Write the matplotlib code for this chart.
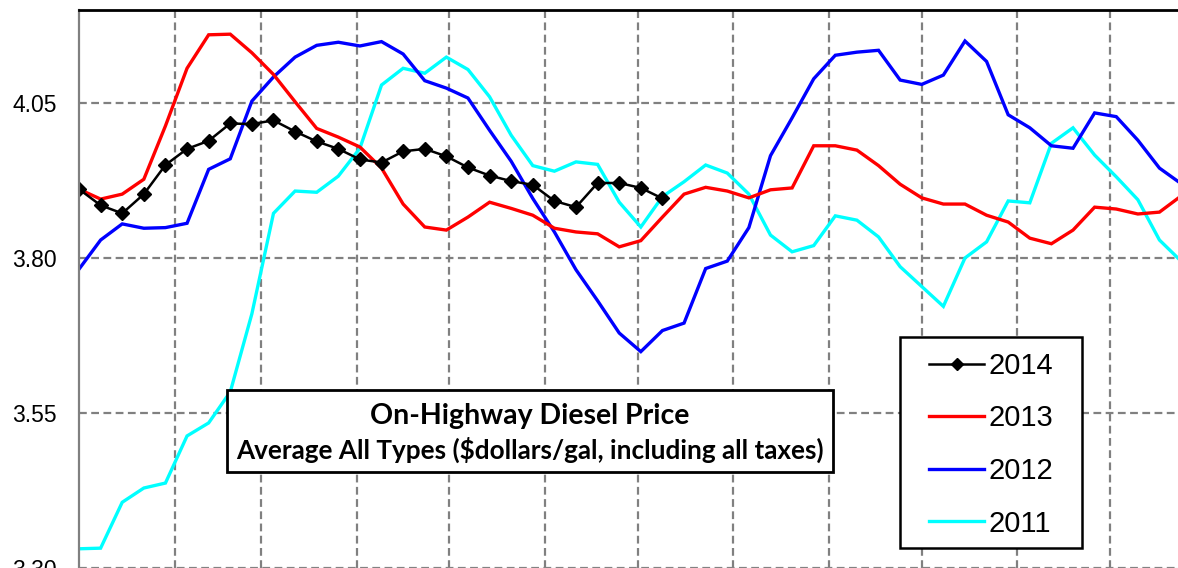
import matplotlib
matplotlib.use("Agg")
import matplotlib.pyplot as plt
from matplotlib.patches import Rectangle

# weekly on-highway diesel price, $/gal (week 0 = first week of January)
y2014 = [3.911, 3.885, 3.872, 3.903, 3.950, 3.976, 3.989, 4.017, 4.016, 4.022,
         4.004, 3.988, 3.976, 3.959, 3.954, 3.972, 3.976, 3.964, 3.946, 3.933,
         3.924, 3.918, 3.892, 3.882, 3.921, 3.921, 3.913, 3.896]
y2013 = [3.911, 3.895, 3.903, 3.927, 4.013, 4.106, 4.160, 4.161, 4.131, 4.096,
         4.052, 4.009, 3.995, 3.979, 3.945, 3.887, 3.850, 3.845, 3.866, 3.890,
         3.880, 3.869, 3.848, 3.842, 3.839, 3.818, 3.828, 3.866, 3.903, 3.914,
         3.908, 3.897, 3.910, 3.913, 3.981, 3.981, 3.974, 3.949, 3.919, 3.897,
         3.887, 3.887, 3.869, 3.858, 3.832, 3.823, 3.845, 3.882, 3.879, 3.871,
         3.874, 3.900]
y2012 = [3.782, 3.829, 3.855, 3.848, 3.849, 3.856, 3.943, 3.960, 4.053, 4.092,
         4.124, 4.143, 4.148, 4.142, 4.149, 4.129, 4.086, 4.074, 4.058, 4.006,
         3.956, 3.896, 3.842, 3.781, 3.731, 3.679, 3.649, 3.683, 3.695, 3.783,
         3.795, 3.849, 3.965, 4.026, 4.089, 4.127, 4.132, 4.135, 4.087, 4.080,
         4.095, 4.150, 4.117, 4.031, 4.010, 3.981, 3.977, 4.034, 4.028, 3.990,
         3.945, 3.920]
y2011 = [3.331, 3.332, 3.406, 3.429, 3.437, 3.513, 3.534, 3.584, 3.710, 3.872,
         3.908, 3.906, 3.932, 3.977, 4.079, 4.106, 4.098, 4.124, 4.104, 4.060,
         3.998, 3.949, 3.940, 3.955, 3.951, 3.890, 3.850, 3.899, 3.923, 3.950,
         3.937, 3.903, 3.837, 3.810, 3.820, 3.868, 3.861, 3.834, 3.786, 3.754,
         3.722, 3.800, 3.826, 3.892, 3.889, 3.985, 4.010, 3.966, 3.931, 3.894,
         3.829, 3.795]

series = [("2011", y2011, "#00FFFF"), ("2012", y2012, "#0000FF"),
          ("2013", y2013, "#FF0000")]

month_starts = [31, 59, 90, 120, 151, 181, 212, 243, 273, 304, 334]
yticks = [3.30, 3.55, 3.80, 4.05]

W, H = 1178, 568
fig = plt.figure(figsize=(W / 100, H / 100), dpi=100)
ax = fig.add_axes([79 / W, 0 / H, 365 * 3.087 / W, 558 / H])

for name, vals, col in series:
    days = [7 * i for i in range(len(vals))]
    ax.plot(days, vals, color=col, lw=2.4, label=name, solid_joinstyle="miter")
days14 = [7 * i for i in range(len(y2014))]
ax.plot(days14, y2014, color="black", lw=1.8, marker="D", ms=7.5, label="2014")

ax.set_xlim(0, 365)
ax.set_ylim(3.30, 4.20)
ax.set_xticks(month_starts)
ax.set_xticklabels([])
ax.set_yticks(yticks)
ax.set_yticklabels(["%.2f" % v for v in yticks], family="Liberation Sans", fontsize=16.5)
ax.tick_params(length=0, pad=16)
ax.grid(True, color="#808080", lw=1.6, linestyle=(0, (3.5, 2)))
ax.set_axisbelow(True)

ax.spines["top"].set_color("black")
ax.spines["top"].set_linewidth(2)
ax.spines["left"].set_color("#808080")
ax.spines["left"].set_linewidth(1.6)
ax.spines["bottom"].set_color("#b0b0b0")
ax.spines["right"].set_visible(False)

# title box
fig.add_artist(Rectangle((227 / W, 1 - 472 / H), 606 / W, 82 / H, transform=fig.transFigure,
                         facecolor="white", edgecolor="black", lw=2, zorder=2))
fig.text(530 / W, 1 - 424 / H, "On-Highway Diesel Price", ha="center", va="baseline",
         family="Lato", weight="bold", fontsize=20.5, zorder=3)
fig.text(530 / W, 1 - 459 / H, "Average All Types ($dollars/gal, including all taxes)",
         ha="center", va="baseline", family="Lato", weight="bold", fontsize=18.8, zorder=3)

# legend box
fig.add_artist(Rectangle((900 / W, 1 - 548 / H), 182 / W, 211 / H, transform=fig.transFigure,
                         facecolor="white", edgecolor="black", lw=1.8, zorder=2))
handles, labels = ax.get_legend_handles_labels()
order = [3, 2, 1, 0]
leg = fig.legend([handles[i] for i in order], [labels[i] for i in order],
                 loc="upper left", bbox_to_anchor=(929 / W, 1 - 352 / H),
                 frameon=False, borderpad=0, borderaxespad=0, handlelength=1.9,
                 handletextpad=0.15, labelspacing=0.84,
                 prop={"family": "Liberation Sans", "size": 21}, markerscale=0.75)
leg.set_zorder(4)

fig.savefig("out.png", dpi=100)
